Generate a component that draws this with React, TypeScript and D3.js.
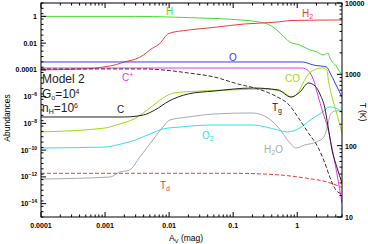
import React from 'react';
import * as d3 from 'd3';

const W = 368, HH = 244;
const PL = 41, PR = 342, PT = 3, PB = 217;

const X_TICKS = [0.0001, 0.001, 0.01, 0.1, 1];
const X_TICK_LABELS = ['0.0001', '0.001', '0.01', '0.1', '1'];
const Y_MAJOR_EXP = [0, -2, -4, -6, -8, -10, -12, -14];
const T_TICKS = [10, 100, 1000, 10000];
const T_TICK_LABELS = ['10', '100', '1000', '10000'];

// Abundance series (Av in mag, abundance relative to nH)
const AV_H = [1e-4, 0.003, 0.01, 0.03, 0.13, 0.24, 0.34, 0.42, 0.54, 0.77, 1.1, 1.58, 2.04, 2.53, 3.02, 3.24, 4.17, 5];
const AB_H = [1.0, 1.0, 0.9, 0.76, 0.54, 0.40, 0.27, 0.16, 0.058, 0.012, 0.0072, 0.0031, 0.0022, 0.0013, 0.0018, 0.00078, 1.6e-4, 3.5e-5];

const AV_H2 = [1e-4, 5e-4, 1e-3, 1.5e-3, 2e-3, 3e-3, 4e-3, 5e-3, 7e-3, 0.01, 0.02, 0.05, 0.15, 0.5, 0.8, 5];
const AB_H2 = [1.0e-4, 1.2e-4, 1.7e-4, 2.5e-4, 3.9e-4, 6.5e-4, 1.3e-3, 3.1e-3, 8.6e-3, 0.054, 0.095, 0.15, 0.27, 0.38, 0.49, 0.54];

const AV_O = [1e-4, 1.2, 1.8, 2.9, 3.2, 3.9, 5];
const AB_O = [3.9e-4, 3.9e-4, 2.3e-4, 1.6e-4, 6.9e-5, 1.05e-5, 9.3e-7];

const AV_CP = [1e-4, 1.2, 1.5, 1.8, 2.1, 2.5, 3.0, 3.5, 4.2, 5];
const AB_CP = [1.38e-4, 1.38e-4, 8.3e-5, 1.7e-5, 1.3e-6, 7e-8, 4.5e-9, 1.4e-10, 1.4e-12, 1.1e-14];

const AV_C = [1e-4, 0.002, 0.004, 0.006, 0.01, 0.02, 0.05, 0.2, 0.5, 0.8, 1.1, 1.5, 1.9, 2.3, 2.7, 3.0, 3.5, 4.2, 5];
const AB_C = [3.0e-8, 3.0e-8, 4.3e-8, 1.0e-7, 4.7e-7, 1.6e-6, 2.6e-6, 4.4e-6, 3.2e-6, 9.3e-7, 2.2e-6, 1.05e-5, 6.2e-6, 1.3e-6, 1.4e-7, 7.6e-9, 1.0e-10, 4.6e-12, 3.5e-13];

const AV_CO = [1e-4, 0.001, 0.0015, 0.003, 0.005, 0.008, 0.012, 0.03, 0.1, 0.3, 0.6, 0.8, 1.0, 1.3, 1.7, 2.5, 2.9, 3.1, 3.5, 4.2, 5];
const AB_CO = [2.3e-9, 4.5e-9, 7.6e-9, 2.5e-8, 1.4e-7, 7.9e-7, 1.9e-6, 2.6e-6, 3.2e-6, 3.7e-6, 2.2e-6, 9.3e-7, 1.6e-6, 1.7e-5, 8.3e-5, 1.4e-4, 1.0e-4, 1.2e-5, 9.3e-7, 4.3e-8, 1.9e-9];

const AV_O2 = [1e-4, 0.001, 0.0015, 0.003, 0.005, 0.008, 0.015, 0.05, 0.2, 0.5, 0.7, 1.1, 1.6, 2.5, 3.2, 4, 5];
const AB_O2 = [1.45e-10, 1.7e-10, 2.4e-10, 5.8e-10, 1.6e-9, 3.8e-9, 5.4e-9, 7.6e-9, 7.6e-9, 3.2e-9, 2.3e-9, 4.5e-9, 1.8e-8, 7.1e-8, 1.7e-7, 1.4e-7, 7.1e-8];

const AV_H2O = [1e-4, 0.0012, 0.0017, 0.0024, 0.0035, 0.0056, 0.008, 0.0103, 0.02, 0.05, 0.2, 0.35, 0.5, 0.75, 0.95, 1.3, 2.0, 2.6, 3.0, 3.3, 4, 5];
const AB_H2O = [6.9e-13, 9.8e-13, 2.3e-12, 3.2e-12, 3.1e-11, 5.8e-10, 5.4e-9, 1.8e-8, 3.0e-8, 5.0e-8, 6.0e-8, 2.5e-8, 5.4e-9, 4.1e-10, 1.45e-10, 2.4e-10, 4.1e-10, 9.5e-10, 7.6e-9, 5.0e-8, 8.5e-8, 8.5e-8];

// Temperature series (K)
const AV_TG = [1e-4, 0.004, 0.01, 0.02, 0.05, 0.12, 0.25, 0.45, 0.75, 1.1, 1.5, 2.1, 2.7, 3.24, 4.0, 5];
const T_TG = [1190, 1190, 1130, 1045, 920, 730, 620, 500, 371, 229, 150, 96, 57, 36, 24, 21];

const AV_TD = [1e-4, 0.1, 0.5, 1.4, 2.9, 5];
const T_TD = [41, 41, 39, 35, 31, 26];

const SERIES = [
  { av: AV_H2O, v: AB_H2O, color: '#aaaaaa', axis: 'L', dash: '' },
  { av: AV_O2, v: AB_O2, color: '#33e0e8', axis: 'L', dash: '' },
  { av: AV_TD, v: T_TD, color: '#ee3b3b', axis: 'R', dash: '4,2' },
  { av: AV_H, v: AB_H, color: '#44dd33', axis: 'L', dash: '' },
  { av: AV_H2, v: AB_H2, color: '#f03c3c', axis: 'L', dash: '' },
  { av: AV_O, v: AB_O, color: '#3a3aee', axis: 'L', dash: '' },
  { av: AV_CP, v: AB_CP, color: '#ee33ee', axis: 'L', dash: '' },
  { av: AV_CO, v: AB_CO, color: '#99dd11', axis: 'L', dash: '' },
  { av: AV_C, v: AB_C, color: '#222222', axis: 'L', dash: '' },
  { av: AV_TG, v: T_TG, color: '#333333', axis: 'R', dash: '4,2' },
];

const x = d3.scaleLog().domain([1e-4, 5]).range([PL, PR]);
const yL = d3.scaleLog().domain([1e-15, 10]).range([PB, PT]);
const yR = d3.scaleLog().domain([10, 10000]).range([PB, PT]);

const FONT = "'Liberation Sans', Arial, sans-serif";

export default function App() {
  const xMinor: number[] = [];
  for (let e = -4; e <= 0; e++) for (let k = 2; k <= 9; k++) { const v = k * Math.pow(10, e); if (v <= 5) xMinor.push(v); }
  const tMinor: number[] = [];
  for (let e = 1; e <= 3; e++) for (let k = 2; k <= 9; k++) tMinor.push(k * Math.pow(10, e));
  const yMinor: number[] = [];
  for (let s = -15; s <= 1.001; s += 0.4) yMinor.push(Math.pow(10, s));

  const lineFor = (s: any) => {
    const ys = s.axis === 'L' ? yL : yR;
    const pts = s.av.map((a: number, i: number) => [x(a), ys(s.v[i])] as [number, number]);
    return d3.line().curve(d3.curveMonotoneX)(pts) || '';
  };

  const lab = { fontFamily: FONT, fontSize: 10 } as const;

  return (
    <svg width={W} height={HH} style={{ position: 'absolute', left: 0, top: 0, background: '#fff' }}>
      <defs>
        <clipPath id="pc"><rect x={PL} y={PT} width={PR - PL} height={PB - PT} /></clipPath>
      </defs>
      <g clipPath="url(#pc)">
        {SERIES.map((s, i) => (
          <path key={i} d={lineFor(s)} fill="none" stroke={s.color} strokeWidth={1} strokeDasharray={s.dash || undefined} />
        ))}
      </g>
      {/* frame */}
      <rect x={PL} y={PT} width={PR - PL} height={PB - PT} fill="none" stroke="#000" strokeWidth={1} />
      {/* x ticks */}
      {X_TICKS.map((v) => (
        <g key={'xt' + v}>
          <line x1={x(v)} x2={x(v)} y1={PB} y2={PB - 5} stroke="#000" />
          <line x1={x(v)} x2={x(v)} y1={PT} y2={PT + 5} stroke="#000" />
        </g>
      ))}
      {xMinor.map((v) => (
        <g key={'xm' + v}>
          <line x1={x(v)} x2={x(v)} y1={PB} y2={PB - 2.5} stroke="#000" />
          <line x1={x(v)} x2={x(v)} y1={PT} y2={PT + 2.5} stroke="#000" />
        </g>
      ))}
      {X_TICKS.map((v, i) => (
        <text key={'xl' + v} x={x(v)} y={228} textAnchor="middle" fontFamily={FONT} fontSize={7} fontWeight="bold">{X_TICK_LABELS[i]}</text>
      ))}
      {/* left ticks */}
      {Y_MAJOR_EXP.map((e) => (
        <line key={'yt' + e} x1={PL} x2={PL + 5} y1={yL(Math.pow(10, e))} y2={yL(Math.pow(10, e))} stroke="#000" />
      ))}
      {yMinor.map((v, i) => (
        <line key={'ym' + i} x1={PL} x2={PL + 2.5} y1={yL(v)} y2={yL(v)} stroke="#000" />
      ))}
      {Y_MAJOR_EXP.map((e) => {
        const yy = yL(Math.pow(10, e)) + 2.5;
        if (e >= -4) {
          const t = e === 0 ? '1' : e === -2 ? '0.01' : '0.0001';
          return <text key={'yl' + e} x={37} y={yy} textAnchor="end" fontFamily={FONT} fontSize={7} fontWeight="bold">{t}</text>;
        }
        return (
          <text key={'yl' + e} x={37} y={yy} textAnchor="end" fontFamily={FONT} fontSize={7} fontWeight="bold">
            10<tspan fontSize={5} dy={-3}>{String(e).replace('-', '−')}</tspan>
          </text>
        );
      })}
      {/* right ticks */}
      {T_TICKS.map((v) => (
        <line key={'tt' + v} x1={PR} x2={PR - 5} y1={yR(v)} y2={yR(v)} stroke="#000" />
      ))}
      {tMinor.map((v) => (
        <line key={'tm' + v} x1={PR} x2={PR - 2.5} y1={yR(v)} y2={yR(v)} stroke="#000" />
      ))}
      {T_TICK_LABELS.map((t, i) => (
        <text key={'tl' + t} x={345} y={yR(T_TICKS[i]) + 3} fontFamily={FONT} fontSize={7} fontWeight="bold">{t}</text>
      ))}
      {/* axis titles */}
      <text transform="translate(10,118) rotate(-90)" textAnchor="middle" fontFamily={FONT} fontSize={8.5}>Abundances</text>
      <text transform="translate(360,112) rotate(90)" textAnchor="middle" fontFamily={FONT} fontSize={8.5}>T (K)</text>
      <text x={186} y={241} textAnchor="middle" fontFamily={FONT} fontSize={8.5}>A<tspan fontSize={6} dy={2}>V</tspan><tspan dy={-2}> (mag)</tspan></text>
      {/* model text */}
      <text x={42} y={83} fontFamily={FONT} fontSize={12} fill="#222">Model 2</text>
      <text x={42} y={98} fontFamily={FONT} fontSize={12} fill="#222">G<tspan fontSize={7} dy={1.5}>o</tspan><tspan dy={-1.5}>=10</tspan><tspan fontSize={7} dy={-4.5}>4</tspan></text>
      <text x={42} y={112} fontFamily={FONT} fontSize={12} fill="#222">n<tspan fontSize={7} dy={1.5}>H</tspan><tspan dy={-1.5}>=10</tspan><tspan fontSize={7} dy={-4.5}>6</tspan></text>
      {/* series labels */}
      <text x={166} y={15} {...lab} fill="#44dd33">H</text>
      <text x={302} y={17} {...lab} fill="#f03c3c">H<tspan fontSize={7} dy={2}>2</tspan></text>
      <text x={229} y={61} {...lab} fill="#3a3aee">O</text>
      <text x={122} y={81} {...lab} fill="#ee33ee">C<tspan fontSize={7} dy={-4}>+</tspan></text>
      <text x={285} y={82} {...lab} fill="#99dd11">CO</text>
      <text x={117} y={113} {...lab} fill="#222">C</text>
      <text x={272} y={111} {...lab} fill="#222">T<tspan fontSize={7} dy={2}>g</tspan></text>
      <text x={202} y={139} {...lab} fill="#33e0e8">O<tspan fontSize={7} dy={2}>2</tspan></text>
      <text x={264} y={153} {...lab} fill="#aaaaaa">H<tspan fontSize={7} dy={2}>2</tspan><tspan dy={-2}>O</tspan></text>
      <text x={160} y={189} {...lab} fill="#ee3b3b">T<tspan fontSize={7} dy={2}>d</tspan></text>
    </svg>
  );
}
